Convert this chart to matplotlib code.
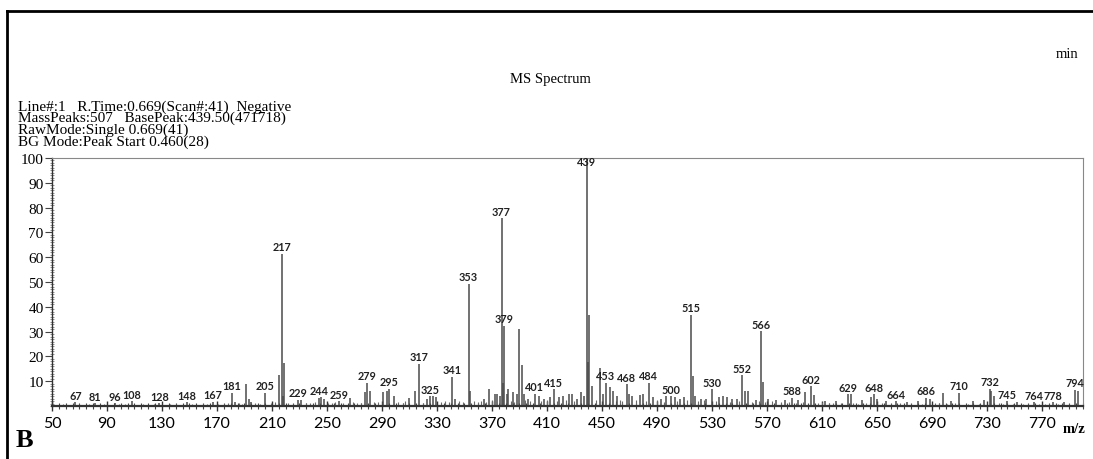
import matplotlib
matplotlib.use('Agg')
import matplotlib.pyplot as plt
from matplotlib.ticker import MultipleLocator, FixedLocator
from matplotlib.lines import Line2D

# main peaks (m/z, relative intensity %)
peak_mz = [67, 81, 96, 108, 128, 148, 167, 181, 183, 191, 193, 195, 205, 215, 217, 218, 219,
           229, 231, 244, 246, 248, 259, 267, 278, 279, 281, 291, 294, 295, 299, 310, 314,
           317, 323, 325, 327, 329, 341, 343, 353, 354, 364, 368, 372, 374, 376, 377, 378,
           379, 381, 382, 385, 388, 390, 392, 393, 396, 401, 404, 408, 412, 415, 419, 422,
           426, 428, 432, 435, 437, 439, 440, 441, 443, 449, 451, 453, 456, 458, 461, 468,
           470, 472, 478, 480, 484, 487, 493, 497, 500, 503, 507, 510, 515, 516, 518, 522,
           526, 530, 535, 538, 541, 545, 548, 552, 554, 556, 562, 566, 567, 571, 577, 583,
           588, 593, 598, 602, 604, 612, 620, 629, 631, 639, 646, 648, 650, 657, 664, 672,
           680, 686, 689, 698, 704, 710, 720, 728, 732, 733, 735, 745, 752, 764, 778, 786,
           794, 796]
peak_int = [1.5, 1.2, 1.2, 2.0, 1.2, 1.5, 1.8, 5.4, 1.5, 9.0, 3.0, 1.5, 5.4, 12.4, 61.3, 4.0, 17.2,
            2.6, 2.5, 3.4, 3.5, 3.0, 2.0, 3.2, 5.5, 9.4, 6.0, 5.5, 6.0, 7.0, 4.0, 3.3, 6.0,
            17.0, 3.0, 4.0, 4.0, 3.5, 11.8, 3.0, 49.3, 6.0, 3.0, 6.7, 5.0, 5.0, 4.0, 75.7, 9.4,
            32.3, 5.0, 6.7, 5.5, 5.0, 31.2, 16.5, 5.0, 3.0, 5.0, 4.0, 3.0, 3.5, 6.7, 3.5, 4.0,
            5.0, 5.0, 3.0, 5.5, 4.0, 100.0, 17.7, 36.8, 8.0, 15.3, 5.0, 9.4, 7.5, 6.0, 4.0, 8.8,
            5.0, 4.0, 4.5, 5.0, 9.4, 3.5, 3.0, 4.0, 4.0, 3.5, 3.0, 3.5, 36.8, 12.2, 4.0, 3.0,
            3.0, 6.7, 3.5, 4.0, 3.5, 3.0, 3.0, 12.5, 6.0, 6.0, 2.5, 30.2, 9.5, 3.0, 2.5, 2.5,
            3.3, 2.5, 5.5, 8.0, 4.5, 2.0, 2.0, 4.7, 4.7, 2.5, 3.5, 4.7, 3.0, 2.0, 2.0, 1.5,
            2.0, 3.4, 3.0, 5.4, 2.0, 5.4, 2.0, 2.5, 7.0, 6.0, 4.0, 2.0, 1.5, 1.5, 1.5, 1.5,
            6.5, 6.0]

# small baseline peaks
noise_mz = [55, 58, 62, 70, 74, 77, 85, 88, 92, 99, 103, 112, 116, 120, 124, 132, 136, 140,
            144, 152, 156, 160, 163, 171, 175, 178, 186, 188, 198, 201, 209, 212, 222, 225,
            235, 238, 241, 251, 254, 256, 262, 269, 272, 275, 284, 287, 302, 305, 307, 320,
            333, 336, 339, 346, 349, 357, 360, 362, 366, 370, 384, 386, 394, 398, 406, 410,
            417, 424, 430, 446, 460, 463, 465, 475, 482, 490, 495, 505, 512, 520, 524, 533,
            543, 550, 559, 564, 569, 574, 580, 586, 591, 596, 607, 610, 615, 618, 624, 633,
            636, 642, 654, 660, 667, 675, 683, 692, 695, 701, 707, 716, 724, 739, 742, 749,
            756, 760, 768, 772, 775, 782, 790, 797]
noise_int = [0.6, 0.8, 0.5, 0.9, 0.6, 0.7, 0.5, 0.8, 0.6, 0.7, 0.9, 0.6, 0.8, 0.5, 0.7, 0.6, 0.9, 0.7,
             0.6, 0.8, 0.6, 0.9, 0.7, 1.0, 0.8, 1.2, 1.4, 1.0, 1.3, 0.9, 1.2, 1.5, 1.3, 1.0,
             1.4, 1.2, 1.6, 1.3, 1.1, 1.5, 1.2, 1.6, 1.3, 1.1, 1.5, 1.8, 1.6, 1.3, 2.0, 1.4,
             1.8, 2.2, 1.6, 1.9, 1.5, 2.0, 1.7, 2.2, 1.8, 2.4, 2.0, 1.8, 2.5, 2.2, 1.9, 2.4,
             2.0, 2.6, 2.2, 2.4, 2.1, 2.6, 1.9, 2.3, 2.0, 2.4, 1.8, 2.2, 2.5, 1.9, 2.3, 2.0,
             1.8, 2.2, 1.6, 2.0, 1.7, 1.9, 1.5, 1.8, 1.4, 1.6, 1.2, 1.5, 1.3, 1.1, 1.4, 1.2,
             1.0, 1.3, 1.1, 0.9, 1.2, 1.0, 0.8, 1.4, 1.1, 0.9, 1.2, 0.8, 1.0, 1.3, 0.9, 0.8,
             1.0, 0.7, 0.9, 0.8, 0.7, 0.9, 0.8, 0.6]

label_mz = [67, 81, 96, 108, 128, 148, 167, 181, 205, 217, 229, 244, 259, 279, 295, 317, 325,
            341, 353, 377, 379, 401, 415, 439, 453, 468, 484, 500, 515, 530, 552, 566, 588,
            602, 629, 648, 664, 686, 710, 732, 745, 764, 778, 794]

x_ticks = [50, 90, 130, 170, 210, 250, 290, 330, 370, 410, 450, 490, 530, 570, 610, 650, 690, 730, 770]
y_ticks = [10, 20, 30, 40, 50, 60, 70, 80, 90, 100]

header = ["Line#:1   R.Time:0.669(Scan#:41)  Negative",
          "MassPeaks:507   BasePeak:439.50(471718)",
          "RawMode:Single 0.669(41)",
          "BG Mode:Peak Start 0.460(28)"]

W, H = 1093, 460
fig = plt.figure(figsize=(W / 100, H / 100), dpi=100)
fig.patch.set_facecolor('white')

serif = 'Liberation Serif'
sans = 'Lato'

ax = fig.add_axes([52 / W, 1 - 407 / H, (1083 - 52) / W, (407 - 159) / H])
pk = '#4a4a4a'
ax.vlines(noise_mz, 0, noise_int, color='#6a6a6a', lw=0.8)
ax.vlines(peak_mz, 0, peak_int, color=pk, lw=1.1)

ax.set_xlim(50, 800)
ax.set_ylim(0, 100)

lookup = dict(zip(peak_mz, peak_int))
for m in label_mz:
    h = lookup.get(m, 1.0)
    ax.text(m, min(h + 0.6, 96.5), str(m), ha='center', va='bottom',
            fontsize=7.8, fontweight='bold', family=sans, color='#222222')

ax.xaxis.set_major_locator(FixedLocator(x_ticks))
ax.xaxis.set_minor_locator(MultipleLocator(5))
ax.yaxis.set_major_locator(FixedLocator(y_ticks))
ax.yaxis.set_minor_locator(MultipleLocator(1))
ax.set_xticklabels([str(v) for v in x_ticks], family=sans, fontsize=11.5)
ax.set_yticklabels([str(v) for v in y_ticks], family=serif, fontsize=11)
ax.tick_params(axis='x', which='major', direction='inout', length=7, width=1, color='#333333', pad=4)
ax.tick_params(axis='x', which='minor', direction='inout', length=4, width=0.8, color='#444444')
ax.tick_params(axis='y', which='major', direction='out', length=5, width=0.8, color='#444444', pad=1)
ax.tick_params(axis='y', which='minor', direction='inout', length=3, width=0.5, color='#666666')

ax.spines['left'].set_color('#333333')
ax.spines['left'].set_linewidth(1.0)
ax.spines['bottom'].set_color('#333333')
ax.spines['bottom'].set_linewidth(1.6)
ax.spines['top'].set_color('#888888')
ax.spines['top'].set_linewidth(0.8)
ax.spines['right'].set_color('#888888')
ax.spines['right'].set_linewidth(0.8)

# outer frame (left and top edges)
fig.add_artist(Line2D([7 / W, 7 / W], [0, 1 - 12 / H], color='black', lw=2, transform=fig.transFigure))
fig.add_artist(Line2D([7 / W, 1], [1 - 12 / H, 1 - 12 / H], color='black', lw=2, transform=fig.transFigure))

for i, line in enumerate(header):
    fig.text(18 / W, 1 - (107 + 11.7 * i) / H, line, ha='left', va='center',
             family=serif, fontsize=11)

fig.text(550 / W, 1 - 80 / H, 'MS Spectrum', ha='center', va='center', family=serif, fontsize=10.5)
fig.text(1067 / W, 1 - 55 / H, 'min', ha='center', va='center', family=serif, fontsize=10.5)
fig.text(1074 / W, 1 - 430 / H, 'm/z', ha='center', va='center', family=serif, fontsize=10.5,
         fontweight='bold')
fig.text(16 / W, 1 - 441 / H, 'B', ha='left', va='center', family=serif, fontsize=19, fontweight='bold')

fig.savefig('out.png', dpi=100)
